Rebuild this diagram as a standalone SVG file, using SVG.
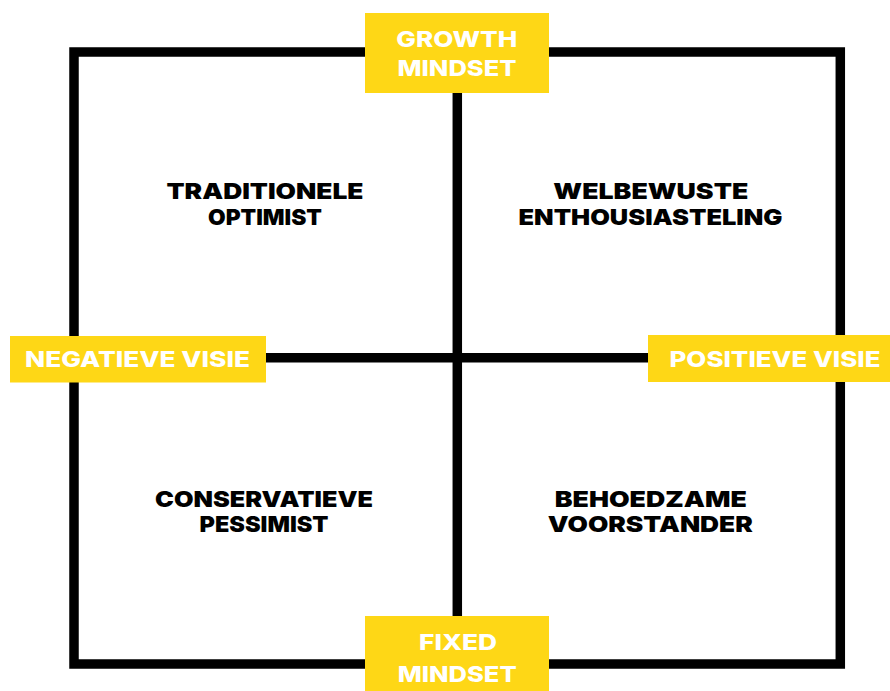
<svg xmlns="http://www.w3.org/2000/svg" width="890" height="691" viewBox="0 0 890 691">
  <style>
    .ln { stroke: #000; stroke-width: 9.5; fill: none; }
    .box { fill: #FED716; }
    .lab { font-family: Inter, "Open Sans", "Liberation Sans", sans-serif; font-weight: 800; font-size: 22px; fill: #fff; text-anchor: middle; }
    .q { font-family: Inter, "Open Sans", "Liberation Sans", sans-serif; font-weight: 900; font-size: 22px; fill: #000; text-anchor: middle; }
  </style>
  <rect width="890" height="691" fill="#fff"/>
  <g id="connectors">
    <rect class="ln" x="74" y="52" width="766.3" height="612"/>
    <line class="ln" x1="457.3" y1="52" x2="457.3" y2="664" stroke-width="10"/>
    <line class="ln" x1="74" y1="357.7" x2="840.3" y2="357.7" stroke-width="10"/>
  </g>
  <g id="growth-mindset">
    <rect class="box" x="365" y="13" width="184" height="80"/>
    <text class="lab" x="456.8" y="46.7" textLength="121" lengthAdjust="spacingAndGlyphs">GROWTH</text>
    <text class="lab" x="457" y="76" textLength="119" lengthAdjust="spacingAndGlyphs">MINDSET</text>
  </g>
  <g id="negatieve-visie">
    <rect class="box" x="10" y="336" width="256" height="46.5"/>
    <text class="lab" x="137.5" y="367.3" textLength="225" lengthAdjust="spacingAndGlyphs">NEGATIEVE VISIE</text>
  </g>
  <g id="positieve-visie">
    <rect class="box" x="648" y="335" width="242" height="47"/>
    <text class="lab" x="775" y="367" textLength="211" lengthAdjust="spacingAndGlyphs">POSITIEVE VISIE</text>
  </g>
  <g id="fixed-mindset">
    <rect class="box" x="365" y="616" width="184" height="75"/>
    <text class="lab" x="458" y="650" textLength="78" lengthAdjust="spacingAndGlyphs">FIXED</text>
    <text class="lab" x="457.2" y="681.7" textLength="119" lengthAdjust="spacingAndGlyphs">MINDSET</text>
  </g>
  <g id="traditionele-optimist">
    <text class="q" x="265" y="199.3" textLength="197" lengthAdjust="spacingAndGlyphs">TRADITIONELE</text>
    <text class="q" x="265" y="225" textLength="114" lengthAdjust="spacingAndGlyphs">OPTIMIST</text>
  </g>
  <g id="welbewuste-enthousiasteling">
    <text class="q" x="650.8" y="199.3" textLength="195" lengthAdjust="spacingAndGlyphs">WELBEWUSTE</text>
    <text class="q" x="650.5" y="225" textLength="264" lengthAdjust="spacingAndGlyphs">ENTHOUSIASTELING</text>
  </g>
  <g id="conservatieve-pessimist">
    <text class="q" x="264" y="506.7" textLength="218" lengthAdjust="spacingAndGlyphs">CONSERVATIEVE</text>
    <text class="q" x="264" y="532.3" textLength="129" lengthAdjust="spacingAndGlyphs">PESSIMIST</text>
  </g>
  <g id="behoedzame-voorstander">
    <text class="q" x="650.8" y="506.7" textLength="192" lengthAdjust="spacingAndGlyphs">BEHOEDZAME</text>
    <text class="q" x="650.3" y="532.3" textLength="205" lengthAdjust="spacingAndGlyphs">VOORSTANDER</text>
  </g>
</svg>
